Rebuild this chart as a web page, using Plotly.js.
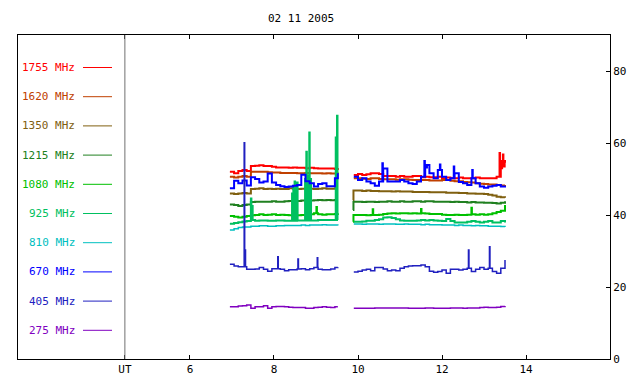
<!DOCTYPE html>
<html>
<head>
<meta charset="utf-8">
<script src="https://cdn.plot.ly/plotly-3.0.1.min.js"></script>
<style>html,body{margin:0;padding:0;background:#fff;}#chart{width:640px;height:384px;}</style>
</head>
<body>
<div id="chart"></div>
<script>
const TITLE = '02 11 2005';
const UT_HOUR = 4.45;
const xTickVals = [UT_HOUR, 6, 8, 10, 12, 14];
const xTickText = ['UT', '6', '8', '10', '12', '14'];
const yTickVals = [0, 20, 40, 60, 80];

const labels = ['1755 MHz','1620 MHz','1350 MHz','1215 MHz','1080 MHz','925 MHz','810 MHz','670 MHz','405 MHz','275 MHz'];
const colors = ['#ff0000','#c04000','#806010','#208020','#00c000','#00c060','#00c0c0','#0000ff','#2020c0','#8000c0'];
const widths = [2, 2, 2, 2, 2, 2, 1.5, 2, 1.5, 1.5];

const T1 = [6.95,7.05,7.15,7.25,7.35,7.45,7.55,7.65,7.75,7.85,7.95,8.05,8.15,8.25,8.35,8.45,8.55,8.65,8.75,8.85,8.95,9.05,9.15,9.25,9.35,9.45,9.52];
const T2 = [9.9,10.0,10.1,10.2,10.3,10.4,10.5,10.6,10.7,10.8,10.9,11.0,11.1,11.2,11.3,11.4,11.5,11.6,11.7,11.8,11.9,12.0,12.1,12.2,12.3,12.4,12.5,12.6,12.7,12.8,12.9,13.0,13.1,13.2,13.3,13.4,13.5];

const s1755a = [52.0,51.6,52.2,52.5,52.2,53.6,53.7,53.8,53.6,53.6,53.4,53.2,53.2,53.2,53.1,53.2,53.1,53.1,53.0,53.1,53.0,52.9,52.9,52.9,52.9,52.8,52.5];
const s1755b = [51.1,51.4,51.1,51.3,51.6,51.6,51.4,50.8,50.8,50.8,50.6,50.8,50.6,50.6,50.8,50.8,50.5,50.6,50.5,50.5,50.6,50.2,50.4,50.2,50.2,50.4,50.2,50.2,50.2,50.4,50.2,50.2,50.2,50.2,50.6,55.0,54.5];
const k1755 = [[13.37,57.2],[13.42,53.0],[13.45,56.8],[13.48,53.5]];

const s1620a = [50.6,50.4,50.6,50.8,50.6,52.0,52.0,52.0,52.0,51.9,51.8,51.8,51.7,51.7,51.7,51.7,51.6,51.6,51.7,51.6,51.6,51.6,51.5,51.6,51.5,51.5,51.4];
const s1620b = [50.2,50.2,50.1,50.0,50.2,50.2,50.0,49.9,49.9,49.9,49.8,49.9,49.9,49.8,49.7,49.7,49.7,49.7,49.6,49.6,49.6,49.7,49.7,49.5,49.4,49.4,49.2,49.1,49.0,48.8,48.7,48.6,48.5,48.5,48.3,48.2,48.3];
const k1620 = [];

const s1350a = [46.0,45.8,46.0,46.1,46.0,47.2,47.3,47.4,47.2,47.3,47.2,47.3,47.2,47.2,47.4,47.3,47.2,47.3,47.4,47.3,47.2,47.3,47.4,47.3,47.3,47.4,47.4];
const s1350b = [46.8,46.8,46.7,46.8,46.7,46.7,46.6,46.6,46.6,46.5,46.6,46.5,46.5,46.5,46.4,46.4,46.4,46.4,46.3,46.3,46.3,46.3,46.2,46.2,46.2,46.1,46.1,46.0,46.0,45.9,45.9,45.8,45.6,45.4,45.1,44.9,44.8];
const k1350 = [[9.88,44.2]];

const s1215a = [42.9,42.8,42.5,42.8,42.9,43.6,43.7,43.7,43.7,43.7,43.8,43.7,43.7,43.8,43.9,43.9,43.9,44.0,44.0,44.0,44.1,44.2,44.1,44.2,44.1,44.2,44.2];
const s1215b = [43.7,43.7,43.6,43.7,43.7,43.6,43.7,43.7,43.8,43.7,43.7,43.8,43.7,43.7,43.8,43.8,43.7,43.8,43.8,43.7,43.7,43.7,43.7,43.6,43.7,43.6,43.6,43.5,43.6,43.5,43.5,43.4,43.4,43.3,43.2,43.4,43.8];
const k1215 = [[9.88,41.4]];

const s1080a = [39.7,39.5,39.3,39.5,39.7,39.9,40.0,40.2,40.0,40.1,40.2,40.0,40.1,40.0,39.9,39.8,39.9,40.0,40.1,40.2,40.5,40.2,40.1,40.2,40.2,40.3,40.5];
const s1080b = [40.0,40.0,40.0,39.9,40.0,40.0,40.1,40.3,40.4,40.5,40.4,40.5,40.5,40.4,40.5,40.4,40.5,40.4,40.3,40.3,40.3,40.1,40.0,40.0,40.1,40.0,40.0,40.1,40.2,40.1,40.2,40.1,40.2,40.5,40.8,41.2,42.8];
const k1080 = [[9.01,42.2],[9.88,38.1],[10.35,41.6],[11.5,41.7],[12.7,42.0]];

const s925a = [37.6,37.8,38.0,38.2,38.3,38.6,38.4,38.5,38.5,38.4,38.4,38.5,38.5,38.4,38.4,38.4,38.5,38.5,38.5,38.5,38.5,38.6,38.6,38.6,38.6,38.6,38.6];
const s925b = [38.1,38.1,38.2,38.4,38.4,38.6,38.8,39.3,39.4,39.2,38.8,38.5,38.4,38.4,38.4,38.5,38.6,38.5,38.6,38.5,38.4,38.3,38.9,38.3,37.9,37.9,37.9,38.1,38.3,38.1,37.9,38.1,38.3,37.9,37.9,38.3,37.9];
const k925 = [[7.45,44.6],[7.48,42.5],[8.43,46.0],[8.46,47.5],[8.49,49.3],[8.52,48.0],[8.55,49.0],[8.74,50.0],[8.77,57.6],[8.80,51.0],[8.84,62.9],[8.87,50.0],[9.47,61.5],[9.50,67.6]];

const s810a = [35.8,36.2,36.5,36.7,36.7,36.9,36.9,37.0,37.0,36.9,36.9,37.0,37.0,37.1,37.1,37.1,37.1,37.2,37.1,37.2,37.2,37.2,37.3,37.2,37.2,37.2,37.1];
const s810b = [37.5,37.5,37.4,37.5,37.5,37.5,37.4,37.5,37.5,37.5,37.4,37.4,37.5,37.4,37.4,37.4,37.3,37.4,37.3,37.3,37.3,37.2,37.2,37.2,37.1,37.2,37.1,37.1,37.0,37.1,37.0,37.0,36.9,36.9,36.9,36.8,36.7];
const k810 = [];

const s670a = [47.4,49.5,48.8,49.6,48.2,50.5,50.0,49.0,49.3,51.5,49.0,48.3,48.0,47.8,47.9,48.1,48.3,51.2,49.4,48.8,47.9,48.6,48.8,48.0,48.0,50.2,51.6];
const s670b = [50.6,49.7,50.2,49.3,48.8,48.1,49.3,52.9,49.3,49.3,49.3,49.7,49.3,48.8,48.6,49.3,50.6,53.9,51.6,50.2,52.5,50.6,49.7,50.2,51.6,49.2,48.8,48.3,50.2,48.8,47.9,47.6,47.9,48.1,48.3,47.9,48.1];
const k670 = [[10.58,54.4],[11.58,55.0],[11.63,53.2],[11.95,54.0],[12.28,53.5],[12.72,52.5]];

const s405a = [26.3,25.8,25.6,25.6,24.9,24.9,25.0,25.4,24.9,24.4,25.1,25.1,24.9,24.5,24.8,24.8,25.0,25.1,24.8,25.1,25.4,24.9,24.8,24.8,25.0,25.4,25.5];
const s405b = [24.2,24.4,24.7,24.9,24.5,25.4,25.4,25.0,24.5,24.7,24.5,25.2,25.6,25.8,25.9,25.9,26.1,25.6,24.4,24.1,24.3,24.7,23.8,24.9,24.9,24.7,24.9,25.2,24.3,24.9,25.4,24.9,25.2,24.3,23.8,25.2,27.5];
const k405 = [[7.29,60.1],[7.31,30.3],[8.09,28.4],[8.57,27.8],[9.03,28.1],[12.63,30.3],[13.13,31.2]];

const s275a = [14.5,14.5,14.7,14.8,15.0,14.1,14.5,14.5,14.8,14.1,14.5,14.6,14.6,14.5,14.4,14.3,14.3,14.3,14.1,14.1,14.3,14.4,14.5,14.4,14.3,14.5,14.5];
const s275b = [14.1,14.1,14.1,14.1,14.1,14.2,14.2,14.2,14.2,14.2,14.2,14.2,14.2,14.1,14.1,14.1,14.1,14.2,14.2,14.1,14.1,14.1,14.1,14.2,14.2,14.2,14.1,14.2,14.2,14.2,14.3,14.4,14.3,14.3,14.4,14.6,14.7];
const k275 = [];

const seriesA = [s1755a,s1620a,s1350a,s1215a,s1080a,s925a,s810a,s670a,s405a,s275a];
const seriesB = [s1755b,s1620b,s1350b,s1215b,s1080b,s925b,s810b,s670b,s405b,s275b];
const spikes  = [k1755,k1620,k1350,k1215,k1080,k925,k810,k670,k405,k275];

function segment(times, vals, spk) {
  const t0 = times[0], t1 = times[times.length - 1];
  const pts = times.map((t, i) => [t, vals[i]]);
  spk.filter(([t]) => t >= t0 - 0.05 && t <= t1 + 0.01).forEach(([t, v]) => {
    let b = vals[0];
    for (let i = 0; i < times.length; i++) if (times[i] <= t) b = vals[i];
    pts.push([t, v]);
    pts.push([t + 0.012, b]);
  });
  pts.sort((a, b) => a[0] - b[0]);
  return pts;
}

const MONO = 'DejaVu Sans Mono, monospace';
const traces = labels.map((name, i) => {
  const a = segment(T1, seriesA[i], spikes[i]);
  const b = segment(T2, seriesB[i], spikes[i]);
  const pts = a.concat([[9.7, null]], b);
  return {
    type: 'scatter', mode: 'lines', name: name,
    x: pts.map(p => p[0]), y: pts.map(p => p[1]),
    line: {color: colors[i], width: widths[i], shape: 'hv'},
    connectgaps: false, hoverinfo: 'skip'
  };
});

// legend built from labels/colors (paper coordinates)
const L = 18, R = 610, TOP = 35, BOT = 359;
const px = x => (x - L) / (R - L);
const py = y => (BOT - y) / (BOT - TOP);
const annotations = [], shapes = [];
labels.forEach((name, i) => {
  const yPix = 67.5 + i * 29.2;
  annotations.push({xref: 'paper', yref: 'paper', x: px(77), y: py(yPix), xanchor: 'right', yanchor: 'middle',
    text: name, showarrow: false, font: {family: MONO, size: 11, color: colors[i]}});
  shapes.push({type: 'line', xref: 'paper', yref: 'paper', x0: px(83), x1: px(112), y0: py(yPix), y1: py(yPix),
    line: {color: colors[i], width: 1}});
});
shapes.push({type: 'line', xref: 'x', yref: 'paper', x0: UT_HOUR, x1: UT_HOUR, y0: 0, y1: 1, line: {color: '#707070', width: 1}});

const layout = {
  width: 640, height: 384,
  margin: {l: 18, r: 30, t: 35, b: 25, pad: 0},
  paper_bgcolor: '#ffffff', plot_bgcolor: '#ffffff',
  showlegend: false,
  title: {text: TITLE, font: {family: MONO, size: 11, color: '#000'}, x: 306/640, xanchor: 'center', xref: 'paper', y: 1 - 18/384, yref: 'container', yanchor: 'middle'},
  xaxis: {range: [1.905, 16], tickvals: xTickVals, ticktext: xTickText, ticks: 'inside', ticklen: 4, tickcolor: '#000',
    showline: true, linecolor: '#000', linewidth: 1, mirror: 'ticks', showgrid: false, zeroline: false,
    tickfont: {family: MONO, size: 11, color: '#000'}},
  yaxis: {range: [0, 90], side: 'right', tickvals: yTickVals, ticks: 'inside', ticklen: 4, tickcolor: '#000',
    showline: true, linecolor: '#000', linewidth: 1, mirror: true, showgrid: false, zeroline: false,
    tickfont: {family: MONO, size: 11, color: '#000'}},
  annotations: annotations, shapes: shapes
};

Plotly.newPlot('chart', traces, layout, {staticPlot: true, displayModeBar: false});
</script>
</body>
</html>
